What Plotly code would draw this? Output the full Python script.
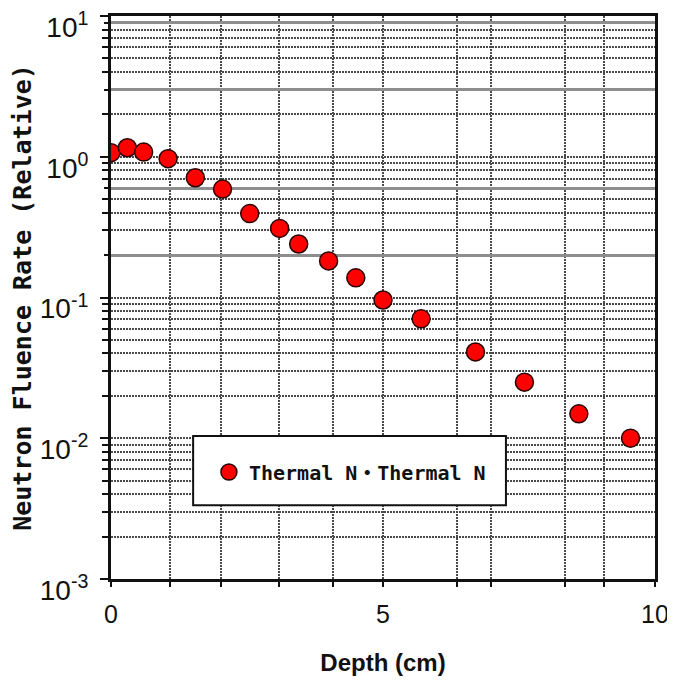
import plotly.graph_objects as go

# ---- data ----
depth_cm = [0.0, 0.3, 0.6, 1.05, 1.55, 2.05, 2.55, 3.1, 3.45, 4.0, 4.5, 5.0, 5.7, 6.7, 7.6, 8.6, 9.55]
fluence_rel = [1.07, 1.16, 1.08, 0.97, 0.71, 0.59, 0.395, 0.31, 0.24, 0.182, 0.138, 0.096,
               0.0705, 0.041, 0.025, 0.0149, 0.0100]
series_name = "Thermal N・Thermal N"

# x grid/tick positions (irregular in original) and labels
x_tick_vals = [0, 1.08, 2.02, 3.09, 4.08, 5.0, 6.36, 6.99, 8.35, 9.06, 10]
x_tick_text = ["0", "", "", "", "", "5", "", "", "", "", "10"]

# y decades and their labels
y_decades = [1e-3, 1e-2, 1e-1, 1e0, 1e1]
y_decade_text = ["10<sup>-3</sup>", "10<sup>-2</sup>", "10<sup>-1</sup>", "10<sup>0</sup>", "10<sup>1</sup>"]
# minor grid lines: solid grey ones and dotted ones
y_solid_vals = [9, 3, 0.6, 0.2]
y_dotted_vals = [m * d for d in [1e-3, 1e-2, 1e-1, 1e0] for m in range(2, 10)
                 if round(m * d, 6) not in [round(v, 6) for v in y_solid_vals]]

dot_col = "#4a4a4a"
dot_dash = "2px,1px"
solid_col = "#8e8e8e"

fig = go.Figure()
fig.add_trace(go.Scatter(
    x=depth_cm, y=fluence_rel, mode="markers", name=series_name,
    marker=dict(size=18, color="#ff0000", line=dict(color="#2a0000", width=1.5)),
    yaxis="y",
))
# invisible copy to anchor the overlay axis that carries the solid grey grid
fig.add_trace(go.Scatter(
    x=depth_cm, y=fluence_rel, mode="markers", showlegend=False, hoverinfo="skip",
    marker=dict(size=1, opacity=0), yaxis="y2",
))

fig.update_layout(
    width=675, height=685,
    margin=dict(l=103, r=28, t=8, b=114),
    paper_bgcolor="white", plot_bgcolor="white",
    showlegend=True,
    legend=dict(
        x=0.18, y=0.19, xanchor="left", yanchor="middle",
        bgcolor="rgba(0,0,0,0)", borderwidth=0,
        font=dict(family="DejaVu Sans Mono, Noto Sans CJK JP", size=20, color="#111", weight="bold"),
    ),
    xaxis=dict(
        range=[0, 10], tickmode="array", tickvals=x_tick_vals, ticktext=x_tick_text,
        showgrid=True, gridcolor=dot_col, gridwidth=1.6, griddash=dot_dash,
        ticks="outside", ticklen=5, tickwidth=1.5, tickcolor="#111",
        showline=True, linecolor="#111", linewidth=3, mirror=True,
        ticklabelstandoff=6, automargin=False,
        tickfont=dict(family="Liberation Sans, Arial", size=25, color="#111"),
        title=dict(text="Depth (cm)", standoff=28,
                   font=dict(family="Liberation Sans, Arial", size=24, color="#111", weight="bold")),
        zeroline=False,
    ),
    yaxis=dict(
        type="log", range=[-3.001, 1.001],
        tickmode="array", tickvals=y_decades, ticktext=y_decade_text,
        showgrid=True, gridcolor=dot_col, gridwidth=1.6, griddash=dot_dash,
        ticks="outside", ticklen=8, tickwidth=2, tickcolor="#111",
        minor=dict(tickmode="array", tickvals=y_dotted_vals, showgrid=True,
                   gridcolor=dot_col, gridwidth=1.6, griddash=dot_dash,
                   ticks="outside", ticklen=6, tickcolor="#111", tickwidth=1.5),
        showline=True, linecolor="#111", linewidth=3, mirror=True,
        ticklabelstandoff=6, ticklabelshift=11, ticklabeloverflow="allow", automargin=False,
        tickfont=dict(family="Liberation Sans, Arial", size=28, color="#111"),
        title=dict(text="Neutron Fluence Rate (Relative)", standoff=6,
                   font=dict(family="DejaVu Sans Mono", size=25, color="#111", weight="bold")),
        zeroline=False,
    ),
    yaxis2=dict(
        type="log", range=[-3.001, 1.001], overlaying="y", side="left", anchor="x",
        tickmode="array", tickvals=y_solid_vals, showticklabels=False,
        showgrid=True, gridcolor=solid_col, gridwidth=2.5,
        ticks="outside", ticklen=6, tickwidth=1.5, tickcolor="#111",
        showline=False, zeroline=False, automargin=False,
    ),
    shapes=[dict(
        type="rect", xref="paper", yref="paper", x0=0.151, x1=0.726, y0=0.131, y1=0.254,
        fillcolor="white", line=dict(color="#111", width=2), layer="above",
    )],
)

fig.write_html("out.html")
